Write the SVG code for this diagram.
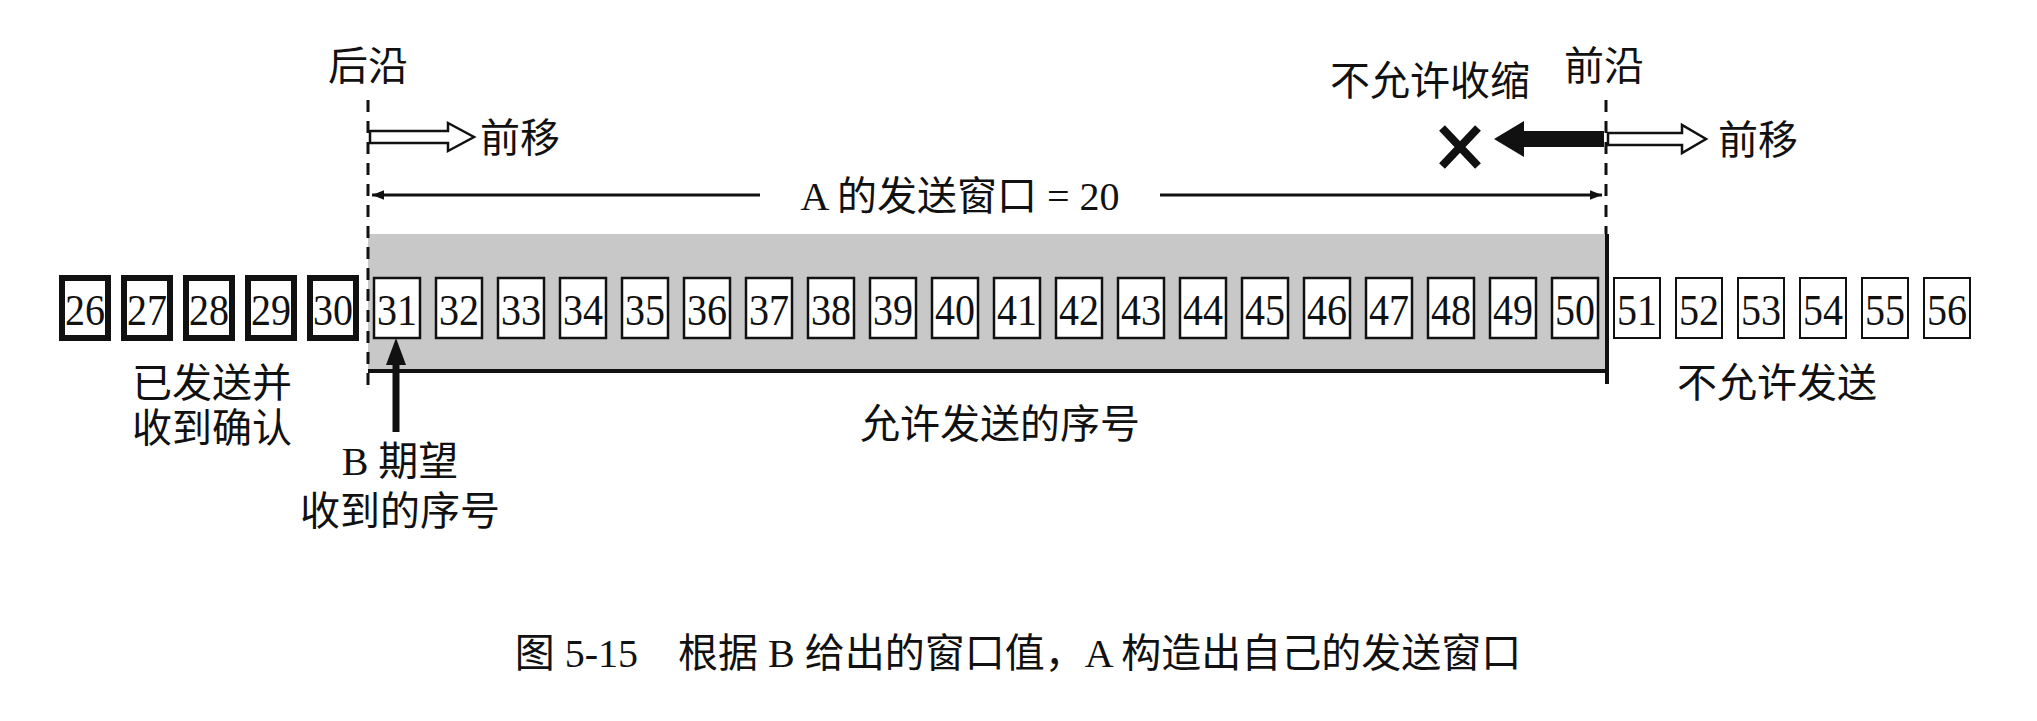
<svg xmlns="http://www.w3.org/2000/svg" width="2037" height="721" viewBox="0 0 2037 721">
<defs>
<style>
text{font-family:"Liberation Serif","Noto Sans CJK SC",serif;fill:#111}
.cj{font-size:40px;text-anchor:middle}
.n{font-size:44px;text-anchor:middle}
.b rect{fill:#fff;stroke:#111}
.done rect{stroke-width:6}
.win rect{stroke-width:2.5}
.out rect{stroke-width:2}
</style>
<marker id="ah" viewBox="0 0 10 10" refX="10" refY="5" markerWidth="12" markerHeight="12" markerUnits="userSpaceOnUse" orient="auto-start-reverse"><path d="M0,1 L10,5 L0,9 Z" fill="#111"/></marker>
</defs>
<rect width="2037" height="721" fill="#fff"/>
<g id="window"><rect x="368" y="234" width="1238" height="136" fill="#c8c8c8"/>
<line x1="368" y1="371" x2="1608" y2="371" stroke="#111" stroke-width="4"/>
<line x1="1607" y1="234" x2="1607" y2="384" stroke="#111" stroke-width="4"/></g>
<g id="connectors" stroke="#111" fill="none">
<line x1="368" y1="100" x2="368" y2="385" stroke-width="3" stroke-dasharray="12,9"/>
<line x1="1606" y1="100" x2="1606" y2="234" stroke-width="3" stroke-dasharray="12,9"/>
<line x1="372" y1="195" x2="760" y2="195" stroke-width="3" marker-start="url(#ah)"/>
<line x1="1160" y1="195" x2="1602" y2="195" stroke-width="3" marker-end="url(#ah)"/>
<path d="M370,131 H448 V123 L474,137 L448,151 V143 H370 Z" stroke-width="2.5" fill="#fff"/>
<path d="M1608,133 H1682 V125 L1706,139 L1682,153 V145 H1608 Z" stroke-width="2.5" fill="#fff"/>
<path d="M1604,131 H1524 V121 L1494,139 L1524,157 V147 H1604 Z" fill="#111" stroke="none"/>
<path d="M1442,128 L1478,166 M1478,128 L1442,166" stroke-width="8"/>
<line x1="396" y1="432" x2="396" y2="360" stroke-width="7"/>
<path d="M396,338 L386,365 L406,365 Z" fill="#111" stroke="none"/>
</g>
<g id="boxes-done" class="b done">
<g id="n26"><rect x="62" y="278" width="46" height="60"/><text class="n" x="85" y="325" textLength="40" lengthAdjust="spacingAndGlyphs">26</text></g>
<g id="n27"><rect x="124" y="278" width="46" height="60"/><text class="n" x="147" y="325" textLength="40" lengthAdjust="spacingAndGlyphs">27</text></g>
<g id="n28"><rect x="186" y="278" width="46" height="60"/><text class="n" x="209" y="325" textLength="40" lengthAdjust="spacingAndGlyphs">28</text></g>
<g id="n29"><rect x="248" y="278" width="46" height="60"/><text class="n" x="271" y="325" textLength="40" lengthAdjust="spacingAndGlyphs">29</text></g>
<g id="n30"><rect x="310" y="278" width="46" height="60"/><text class="n" x="333" y="325" textLength="40" lengthAdjust="spacingAndGlyphs">30</text></g>
</g>
<g id="boxes-win" class="b win">
<g id="n31"><rect x="374" y="278" width="46" height="60"/><text class="n" x="397" y="325" textLength="40" lengthAdjust="spacingAndGlyphs">31</text></g>
<g id="n32"><rect x="436" y="278" width="46" height="60"/><text class="n" x="459" y="325" textLength="40" lengthAdjust="spacingAndGlyphs">32</text></g>
<g id="n33"><rect x="498" y="278" width="46" height="60"/><text class="n" x="521" y="325" textLength="40" lengthAdjust="spacingAndGlyphs">33</text></g>
<g id="n34"><rect x="560" y="278" width="46" height="60"/><text class="n" x="583" y="325" textLength="40" lengthAdjust="spacingAndGlyphs">34</text></g>
<g id="n35"><rect x="622" y="278" width="46" height="60"/><text class="n" x="645" y="325" textLength="40" lengthAdjust="spacingAndGlyphs">35</text></g>
<g id="n36"><rect x="684" y="278" width="46" height="60"/><text class="n" x="707" y="325" textLength="40" lengthAdjust="spacingAndGlyphs">36</text></g>
<g id="n37"><rect x="746" y="278" width="46" height="60"/><text class="n" x="769" y="325" textLength="40" lengthAdjust="spacingAndGlyphs">37</text></g>
<g id="n38"><rect x="808" y="278" width="46" height="60"/><text class="n" x="831" y="325" textLength="40" lengthAdjust="spacingAndGlyphs">38</text></g>
<g id="n39"><rect x="870" y="278" width="46" height="60"/><text class="n" x="893" y="325" textLength="40" lengthAdjust="spacingAndGlyphs">39</text></g>
<g id="n40"><rect x="932" y="278" width="46" height="60"/><text class="n" x="955" y="325" textLength="40" lengthAdjust="spacingAndGlyphs">40</text></g>
<g id="n41"><rect x="994" y="278" width="46" height="60"/><text class="n" x="1017" y="325" textLength="40" lengthAdjust="spacingAndGlyphs">41</text></g>
<g id="n42"><rect x="1056" y="278" width="46" height="60"/><text class="n" x="1079" y="325" textLength="40" lengthAdjust="spacingAndGlyphs">42</text></g>
<g id="n43"><rect x="1118" y="278" width="46" height="60"/><text class="n" x="1141" y="325" textLength="40" lengthAdjust="spacingAndGlyphs">43</text></g>
<g id="n44"><rect x="1180" y="278" width="46" height="60"/><text class="n" x="1203" y="325" textLength="40" lengthAdjust="spacingAndGlyphs">44</text></g>
<g id="n45"><rect x="1242" y="278" width="46" height="60"/><text class="n" x="1265" y="325" textLength="40" lengthAdjust="spacingAndGlyphs">45</text></g>
<g id="n46"><rect x="1304" y="278" width="46" height="60"/><text class="n" x="1327" y="325" textLength="40" lengthAdjust="spacingAndGlyphs">46</text></g>
<g id="n47"><rect x="1366" y="278" width="46" height="60"/><text class="n" x="1389" y="325" textLength="40" lengthAdjust="spacingAndGlyphs">47</text></g>
<g id="n48"><rect x="1428" y="278" width="46" height="60"/><text class="n" x="1451" y="325" textLength="40" lengthAdjust="spacingAndGlyphs">48</text></g>
<g id="n49"><rect x="1490" y="278" width="46" height="60"/><text class="n" x="1513" y="325" textLength="40" lengthAdjust="spacingAndGlyphs">49</text></g>
<g id="n50"><rect x="1552" y="278" width="46" height="60"/><text class="n" x="1575" y="325" textLength="40" lengthAdjust="spacingAndGlyphs">50</text></g>
</g>
<g id="boxes-out" class="b out">
<g id="n51"><rect x="1614" y="278" width="46" height="60"/><text class="n" x="1637" y="325" textLength="40" lengthAdjust="spacingAndGlyphs">51</text></g>
<g id="n52"><rect x="1676" y="278" width="46" height="60"/><text class="n" x="1699" y="325" textLength="40" lengthAdjust="spacingAndGlyphs">52</text></g>
<g id="n53"><rect x="1738" y="278" width="46" height="60"/><text class="n" x="1761" y="325" textLength="40" lengthAdjust="spacingAndGlyphs">53</text></g>
<g id="n54"><rect x="1800" y="278" width="46" height="60"/><text class="n" x="1823" y="325" textLength="40" lengthAdjust="spacingAndGlyphs">54</text></g>
<g id="n55"><rect x="1862" y="278" width="46" height="60"/><text class="n" x="1885" y="325" textLength="40" lengthAdjust="spacingAndGlyphs">55</text></g>
<g id="n56"><rect x="1924" y="278" width="46" height="60"/><text class="n" x="1947" y="325" textLength="40" lengthAdjust="spacingAndGlyphs">56</text></g>
</g>
<g id="labels">
<text class="cj" x="368" y="80">后沿</text>
<text class="cj" x="1604" y="80">前沿</text>
<text class="cj" x="1430" y="95">不允许收缩</text>
<text class="cj" x="520" y="152">前移</text>
<text class="cj" x="1758" y="154">前移</text>
<text class="cj" x="960" y="210">A 的发送窗口 = 20</text>
<text class="cj" x="212" y="397">已发送并</text>
<text class="cj" x="212" y="442">收到确认</text>
<text class="cj" x="1000" y="438">允许发送的序号</text>
<text class="cj" x="1777" y="397">不允许发送</text>
<text class="cj" x="400" y="475">B 期望</text>
<text class="cj" x="400" y="525">收到的序号</text>
<text class="cj" x="1018" y="667" font-size="50">图 5-15　根据 B 给出的窗口值，A 构造出自己的发送窗口</text>
</g>
</svg>
